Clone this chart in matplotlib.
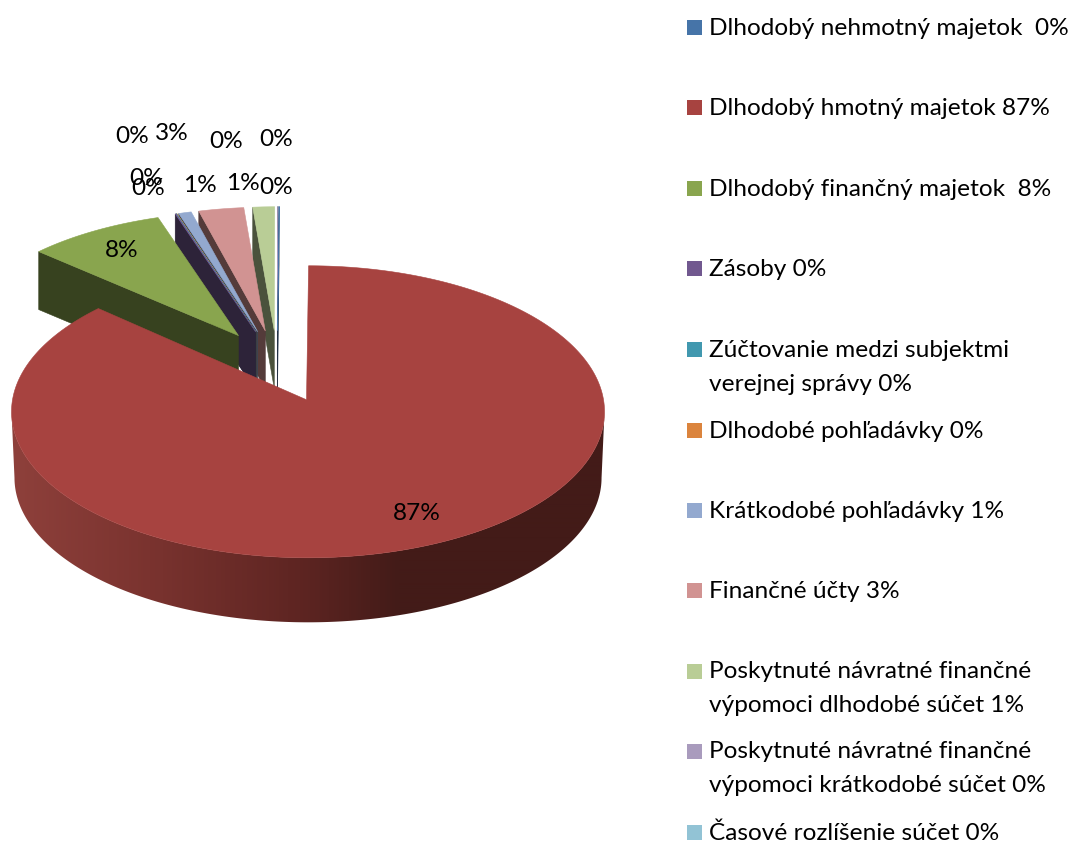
import numpy as np
import matplotlib
matplotlib.use("Agg")
import matplotlib.pyplot as plt
from matplotlib.patches import Polygon, Rectangle
from matplotlib.colors import to_rgb, LinearSegmentedColormap

# ---- data (percent shares) ----
series = ["Dlhodobý nehmotný majetok", "Dlhodobý hmotný majetok", "Dlhodobý finančný majetok",
          "Zásoby", "Zúčtovanie medzi subjektmi verejnej správy", "Dlhodobé pohľadávky",
          "Krátkodobé pohľadávky", "Finančné účty", "Poskytnuté návratné finančné výpomoci dlhodobé súčet",
          "Poskytnuté návratné finančné výpomoci krátkodobé súčet", "Časové rozlíšenie súčet"]
values = [0.03, 87.47, 7.85, 0.04, 0.03, 0.02, 0.72, 2.55, 1.23, 0.02, 0.04]
legend_labels = ["Dlhodobý nehmotný majetok  0%", "Dlhodobý hmotný majetok 87%",
                 "Dlhodobý finančný majetok  8%", "Zásoby 0%",
                 "Zúčtovanie medzi subjektmi\nverejnej správy 0%", "Dlhodobé pohľadávky 0%",
                 "Krátkodobé pohľadávky 1%", "Finančné účty 3%",
                 "Poskytnuté návratné finančné\nvýpomoci dlhodobé súčet 1%",
                 "Poskytnuté návratné finančné\nvýpomoci krátkodobé súčet 0%",
                 "Časové rozlíšenie súčet 0%"]
colors = ["#4674A8", "#A74340", "#89A54E", "#71588F", "#4198AF", "#DB843D",
          "#93A9CF", "#D19392", "#B9CD96", "#A99BBD", "#92C3D5"]

# ---- layout ----
legend_y = [27, 107, 188, 268, 349, 430, 510, 590, 671, 751, 832]
label_xy = [(276, 186), (417, 512), (122, 249), (132, 135), (146, 177), (148, 187),
            (200, 184), (172, 132), (243, 182), (226, 140), (276, 138)]
FONT = "Lato"
FS = 17.6
CENTER = np.array([277.5, 366.5])
EXPLODE = np.array([76.0, 36.0])
RX, RY = 296.5, 146.0
SHIFT = np.array([1.5, 12.0])
DEPTH_FRONT = 66.0
DEPTH_BACK = 58.0
BACK_SX, BACK_SY = 0.96, 0.93   # slices at the back look slightly smaller

fig = plt.figure(figsize=(10.73, 8.41), dpi=100)
ax = fig.add_axes([0, 0, 1, 1])


def darker(c, f=0.4):
    return tuple(v * f for v in to_rgb(c))


vals = np.array(values, dtype=float)
edges = np.concatenate([[0], np.cumsum(vals)]) / vals.sum() * 360.0  # clockwise from 12 o'clock


def geometry(i):
    a0, a1 = edges[i], edges[i + 1]
    mid = np.radians((a0 + a1) / 2)
    apex = CENTER + EXPLODE * np.array([np.sin(mid), -np.cos(mid)])
    sx, sy = (1.0, 1.0) if i == 1 else (BACK_SX, BACK_SY)
    return a0, a1, apex, sx, sy


def rim(apex, sx, sy, ang, dz=0.0, shrink=1.0):
    ang = np.radians(np.atleast_1d(ang))
    c = apex + SHIFT
    x = c[0] + RX * sx * shrink * np.sin(ang)
    y = c[1] - RY * sy * shrink * np.cos(ang) + dz
    return np.column_stack([x, y])


order = [10, 9, 0, 8, 7, 6, 5, 4, 3, 2, 1]
for i in order:
    a0, a1, apex, sx, sy = geometry(i)
    col = colors[i]
    z = 2 + order.index(i) * 2
    if i != 1:
        # cut face along the slice's left radial edge
        outer = rim(apex, sx, sy, a0)[0]
        face = [outer, apex, apex + [0, DEPTH_BACK], outer + [0, DEPTH_BACK]]
        ax.add_patch(Polygon(face, closed=True, fc=darker(col), ec=darker(col), lw=0.4, zorder=z))
    else:
        # outer wall of the big slice with a left-to-right shading
        ang = np.linspace(90, 270, 241)
        top = rim(apex, sx, sy, ang)
        bot = rim(apex, sx, sy, ang, dz=DEPTH_FRONT, shrink=0.99)
        wall = Polygon(np.vstack([top, bot[::-1]]), closed=True, fc="none", ec="none", transform=ax.transData)
        ax.add_patch(wall)
        x0, x1 = 0, 620
        stops_x = np.array([0, 12, 150, 300, 400, 620], dtype=float)
        stops_c = ["#8E403B", "#8E403B", "#7A332F", "#5E2522", "#431B18", "#431B18"]
        cmap = LinearSegmentedColormap.from_list("wall", list(zip((stops_x - x0) / (x1 - x0), stops_c)))
        im = ax.imshow(np.linspace(0, 1, 620).reshape(1, -1), extent=(x0, x1, 700, 400), cmap=cmap,
                       vmin=0, vmax=1, aspect="auto", interpolation="bilinear", zorder=z)
        im.set_clip_path(wall)
    ang = np.linspace(a0, a1, max(3, int((a1 - a0) * 2)))
    pts = np.vstack([apex, rim(apex, sx, sy, ang)])
    ax.add_patch(Polygon(pts, closed=True, fc=col, ec=col, lw=0.4, zorder=z + 1))

# data labels
for v, (x, y) in zip(vals, label_xy):
    ax.text(x, y + 1, f"{round(v):d}%", ha="center", va="center", fontsize=FS,
            family=FONT, color="black", zorder=50)

# legend
for y, lab, col in zip(legend_y, legend_labels, colors):
    ax.add_patch(Rectangle((687, y - 7.5), 15, 15, fc=col, ec="none", zorder=40))
    for k, line in enumerate(lab.split("\n")):
        ax.text(709, y + 1 + k * 34, line, ha="left", va="center", fontsize=FS,
                family=FONT, color="black", zorder=50)

ax.set_xlim(0, 1073)
ax.set_ylim(841, 0)
ax.axis("off")
fig.savefig("out.png", dpi=100, facecolor="white")
